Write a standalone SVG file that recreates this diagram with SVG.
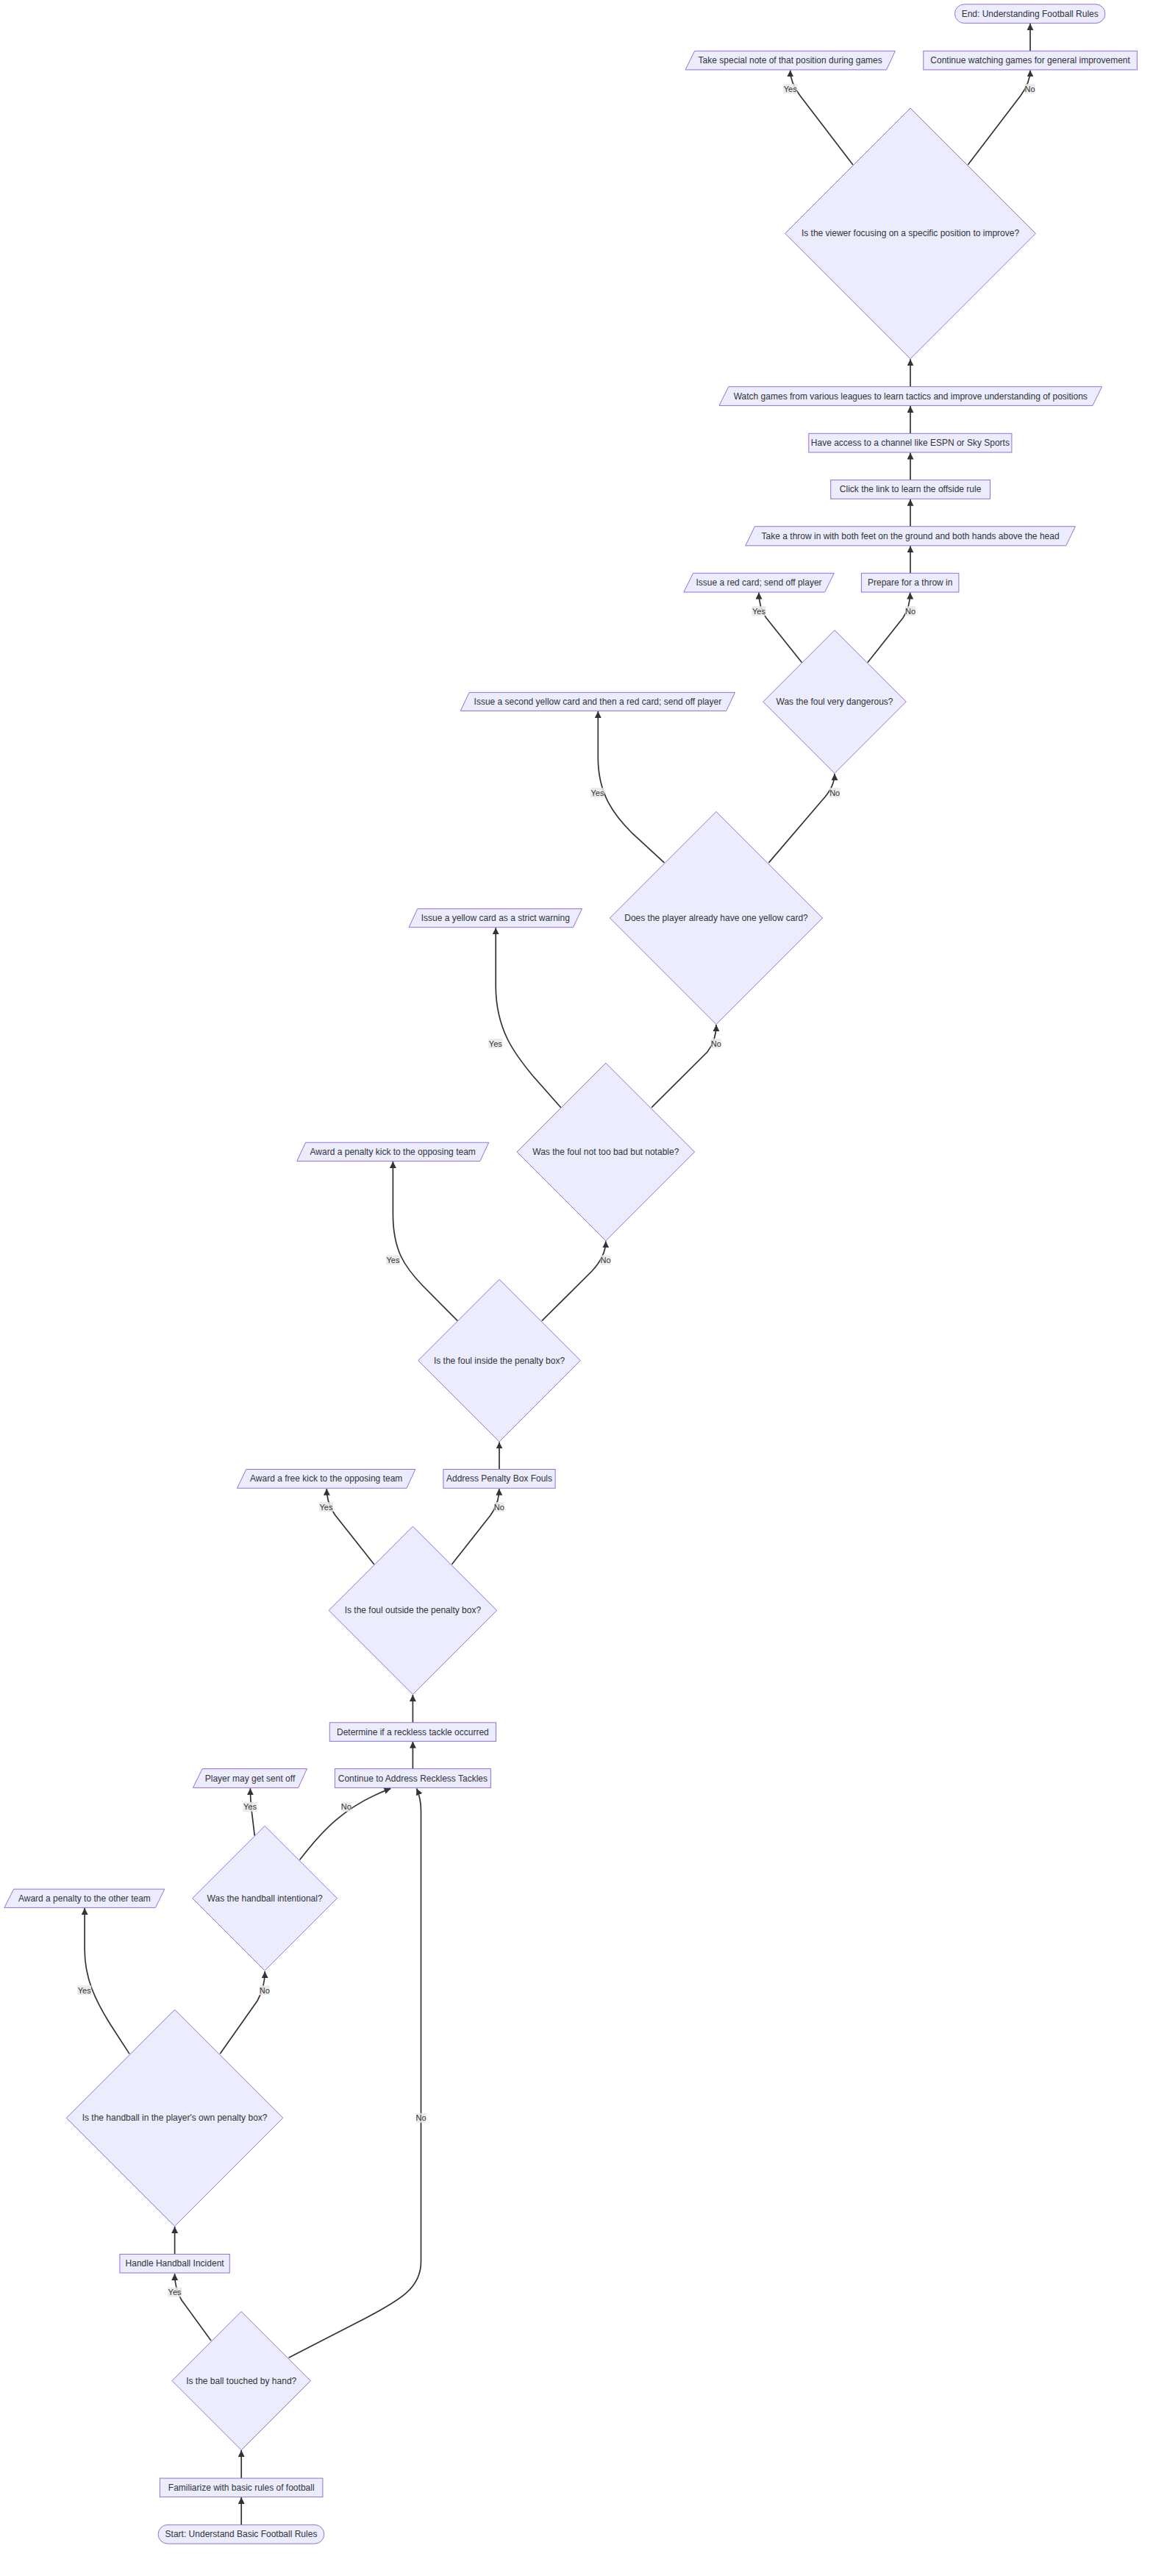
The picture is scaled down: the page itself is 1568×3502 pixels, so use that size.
<svg xmlns="http://www.w3.org/2000/svg" width="1568" height="3502" viewBox="0 0 1568 3502">
<style>
.nd rect,.nd polygon{fill:#ECECFF;stroke:#9370DB;stroke-width:1}
.nd text{font-family:"Liberation Sans",Arial,sans-serif;font-size:12px;fill:#333;text-anchor:middle;dominant-baseline:central}
.ed{fill:none;stroke:#333;stroke-width:1.7;marker-end:url(#arr)}
.el rect{fill:#e8e8e8;opacity:0.85}
.el text{font-family:"Liberation Sans",Arial,sans-serif;font-size:11px;fill:#333;text-anchor:middle;dominant-baseline:central}
</style>
<defs>
<marker id="arr" viewBox="0 0 10 10" refX="10" refY="5" markerUnits="userSpaceOnUse" markerWidth="9" markerHeight="9" orient="auto">
<path d="M0,0 L10,5 L0,10 z" fill="#333"/>
</marker>
</defs>
<rect width="1568" height="3502" fill="#ffffff"/>
<g id="connectors">
<path class="ed" d="M328.2,3432.4 L328.2,3395"/>
<path class="ed" d="M328.2,3369.1 L328.2,3331"/>
<path class="ed" d="M287,3182 L247,3127 Q237.6,3112 237.6,3091"/>
<path class="ed" d="M392.6,3205.2 L500,3150 C545,3126 572.5,3110 572.5,3075 L572.5,2462 Q572.5,2445 566.5,2431.4"/>
<path class="ed" d="M237.6,3064.5 L237.6,3027"/>
<path class="ed" d="M176,2792.1 L150,2752 C130,2720 115.1,2690 115.1,2650 L115.1,2594"/>
<path class="ed" d="M299.3,2792.1 L350,2720 Q360.2,2702 360.2,2680"/>
<path class="ed" d="M346.3,2495.7 L342,2460 Q340.4,2445 340.4,2431.2"/>
<path class="ed" d="M407.6,2528.6 C437,2490 468,2455 531.4,2431.4"/>
<path class="ed" d="M561.4,2404.6 L561.4,2367.6"/>
<path class="ed" d="M561.4,2341.8 L561.4,2304"/>
<path class="ed" d="M508.8,2126.8 L456,2060 Q444.3,2044 444.3,2023.8"/>
<path class="ed" d="M614.4,2126.8 L667,2060 Q678.8,2044 678.8,2023.8"/>
<path class="ed" d="M679,1997.5 L679,1960.4"/>
<path class="ed" d="M622.3,1795.7 L575,1748 C550,1722 534.4,1700 534.4,1650 L534.4,1579"/>
<path class="ed" d="M736.9,1795.7 L805,1728 Q823.8,1708 823.8,1687.3"/>
<path class="ed" d="M762.8,1505.7 L725,1463 C700,1433 674.2,1400 674.2,1340 L674.2,1261.2"/>
<path class="ed" d="M886.1,1505.7 L962,1430 Q974,1415 974,1393.1"/>
<path class="ed" d="M903.4,1172.9 L860,1133 C835,1108 813.3,1080 813.3,1030 L813.3,966.9"/>
<path class="ed" d="M1045.4,1172.9 L1118,1088 Q1135,1070 1135,1051.8"/>
<path class="ed" d="M1090.5,900.7 L1042,840 Q1032,826 1032,805.5"/>
<path class="ed" d="M1179.9,900.7 L1228,840 Q1237.7,826 1237.7,805.5"/>
<path class="ed" d="M1238,779.3 L1238,742.3"/>
<path class="ed" d="M1238,715.7 L1238,678.7"/>
<path class="ed" d="M1238,652.5 L1238,615.5"/>
<path class="ed" d="M1238,589.3 L1238,551.9"/>
<path class="ed" d="M1238,525.7 L1238,488.3"/>
<path class="ed" d="M1159.9,224 L1088,130 Q1074.7,112 1074.7,95.4"/>
<path class="ed" d="M1316.3,224 L1388,130 Q1401,112 1401,95.4"/>
<path class="ed" d="M1401,69.3 L1401,32.1"/>
</g>
<g id="edge-labels" class="el">
<rect x="1065.2" y="114.2" width="19" height="13"/><text x="1074.7" y="120.7">Yes</text>
<rect x="1393.6" y="114.2" width="14" height="13"/><text x="1400.6" y="120.7">No</text>
<rect x="1022.5" y="824.2" width="19" height="13"/><text x="1032" y="830.7">Yes</text>
<rect x="1231" y="824.2" width="14" height="13"/><text x="1238" y="830.7">No</text>
<rect x="803" y="1071" width="19" height="13"/><text x="812.5" y="1077.5">Yes</text>
<rect x="1128.2" y="1071" width="14" height="13"/><text x="1135.2" y="1077.5">No</text>
<rect x="664.3" y="1412.1" width="19" height="13"/><text x="673.8" y="1418.6">Yes</text>
<rect x="966.8" y="1412.1" width="14" height="13"/><text x="973.8" y="1418.6">No</text>
<rect x="525" y="1706.4" width="19" height="13"/><text x="534.5" y="1712.9">Yes</text>
<rect x="816.5" y="1706.4" width="14" height="13"/><text x="823.5" y="1712.9">No</text>
<rect x="434" y="2042.1" width="19" height="13"/><text x="443.5" y="2048.6">Yes</text>
<rect x="671.8" y="2042.1" width="14" height="13"/><text x="678.8" y="2048.6">No</text>
<rect x="330.5" y="2449.9" width="19" height="13"/><text x="340" y="2456.4">Yes</text>
<rect x="463.9" y="2449.9" width="14" height="13"/><text x="470.9" y="2456.4">No</text>
<rect x="105.2" y="2699.2" width="19" height="13"/><text x="114.7" y="2705.7">Yes</text>
<rect x="352.8" y="2699.2" width="14" height="13"/><text x="359.8" y="2705.7">No</text>
<rect x="565.6" y="2872.8" width="14" height="13"/><text x="572.6" y="2879.3">No</text>
<rect x="228.1" y="3109.5" width="19" height="13"/><text x="237.6" y="3116">Yes</text>
</g>
<g id="n_end" class="nd"><rect x="1298.5" y="5.8" width="204.4" height="25.8" rx="12.9"/><text x="1400.7" y="18.7">End: Understanding Football Rules</text></g>
<g id="n_note" class="nd"><polygon points="944.7,69.3 1217.4,69.3 1205.5,94.9 932,94.9"/><text x="1074.7" y="82.1">Take special note of that position during games</text></g>
<g id="n_contwatch" class="nd"><rect x="1255.8" y="69.3" width="290.6" height="25.6"/><text x="1401.1" y="82.1">Continue watching games for general improvement</text></g>
<g id="n_focus" class="nd"><polygon points="1238,147 1408.4,317.4 1238,487.8 1067.6,317.4"/><text x="1238" y="317.4">Is the viewer focusing on a specific position to improve?</text></g>
<g id="n_watch" class="nd"><polygon points="990.8,525.7 1498.6,525.7 1485.9,551.4 978,551.4"/><text x="1238.3" y="538.6">Watch games from various leagues to learn tactics and improve understanding of positions</text></g>
<g id="n_access" class="nd"><rect x="1099.8" y="589.3" width="276.1" height="25.7"/><text x="1237.9" y="602.1">Have access to a channel like ESPN or Sky Sports</text></g>
<g id="n_click" class="nd"><rect x="1129.7" y="652.5" width="216.8" height="25.7"/><text x="1238.1" y="665.3">Click the link to learn the offside rule</text></g>
<g id="n_throw" class="nd"><polygon points="1026.5,715.7 1462.4,715.7 1449.7,741.8 1013.8,741.8"/><text x="1238.1" y="728.8">Take a throw in with both feet on the ground and both hands above the head</text></g>
<g id="n_prepare" class="nd"><rect x="1171.4" y="779.3" width="132.5" height="25.7"/><text x="1237.7" y="792.1">Prepare for a throw in</text></g>
<g id="n_red" class="nd"><polygon points="942.6,779.3 1134.3,779.3 1121.6,805 929.8,805"/><text x="1032" y="792.1">Issue a red card; send off player</text></g>
<g id="n_danger" class="nd"><polygon points="1135,856.7 1232.3,954 1135,1051.3 1037.7,954"/><text x="1135" y="954">Was the foul very dangerous?</text></g>
<g id="n_second" class="nd"><polygon points="638.1,941.4 999.5,941.4 987.7,966.4 626.3,966.4"/><text x="812.9" y="953.9">Issue a second yellow card and then a red card; send off player</text></g>
<g id="n_oneyellow" class="nd"><polygon points="974,1103.4 1118.6,1248 974,1392.6 829.4,1248"/><text x="974" y="1248">Does the player already have one yellow card?</text></g>
<g id="n_yellow" class="nd"><polygon points="567.8,1235.4 791.6,1235.4 779.4,1260.7 556,1260.7"/><text x="673.8" y="1248">Issue a yellow card as a strict warning</text></g>
<g id="n_notable" class="nd"><polygon points="823.8,1445.2 944.6,1566 823.8,1686.8 703,1566"/><text x="823.8" y="1566">Was the foul not too bad but notable?</text></g>
<g id="n_pkick" class="nd"><polygon points="415.6,1553.2 664.7,1553.2 652.8,1578.6 403.7,1578.6"/><text x="534.2" y="1565.9">Award a penalty kick to the opposing team</text></g>
<g id="n_inside" class="nd"><polygon points="679,1739.3 789.3,1849.6 679,1959.9 568.7,1849.6"/><text x="679" y="1849.6">Is the foul inside the penalty box?</text></g>
<g id="n_address" class="nd"><rect x="602.9" y="1997.5" width="152.2" height="25.7"/><text x="679" y="2010.3">Address Penalty Box Fouls</text></g>
<g id="n_freekick" class="nd"><polygon points="334.8,1997.5 564.9,1997.5 553,2023.2 322.5,2023.2"/><text x="443.7" y="2010.3">Award a free kick to the opposing team</text></g>
<g id="n_outside" class="nd"><polygon points="561.4,2075.1 675.6,2189.3 561.4,2303.5 447.2,2189.3"/><text x="561.4" y="2189.3">Is the foul outside the penalty box?</text></g>
<g id="n_determine" class="nd"><rect x="448.3" y="2341.8" width="226.2" height="25.5"/><text x="561.4" y="2354.5">Determine if a reckless tackle occurred</text></g>
<g id="n_reckless" class="nd"><rect x="455.4" y="2404.6" width="212" height="25.8"/><text x="561.4" y="2417.5">Continue to Address Reckless Tackles</text></g>
<g id="n_sentoff" class="nd"><polygon points="275.1,2404.6 417.5,2404.6 405.6,2430.4 262.5,2430.4"/><text x="340" y="2417.5">Player may get sent off</text></g>
<g id="n_intent" class="nd"><polygon points="360.1,2482.3 458.5,2580.7 360.1,2679.1 261.7,2580.7"/><text x="360.1" y="2580.7">Was the handball intentional?</text></g>
<g id="n_penother" class="nd"><polygon points="18.6,2568.2 223.8,2568.2 211.5,2593.4 5.9,2593.4"/><text x="114.9" y="2580.8">Award a penalty to the other team</text></g>
<g id="n_ownbox" class="nd"><polygon points="237.6,2732.1 384.8,2879.3 237.6,3026.5 90.4,2879.3"/><text x="237.6" y="2879.3">Is the handball in the player's own penalty box?</text></g>
<g id="n_handle" class="nd"><rect x="162.9" y="3064.5" width="149.4" height="25.5"/><text x="237.6" y="3077.2">Handle Handball Incident</text></g>
<g id="n_touched" class="nd"><polygon points="328.2,3142.4 422.4,3236.6 328.2,3330.8 234,3236.6"/><text x="328.2" y="3236.6">Is the ball touched by hand?</text></g>
<g id="n_familiar" class="nd"><rect x="217.4" y="3369.1" width="221.5" height="25.5"/><text x="328.2" y="3381.8">Familiarize with basic rules of football</text></g>
<g id="n_start" class="nd"><rect x="215.1" y="3432.4" width="225.7" height="25.7" rx="12.85"/><text x="328" y="3445.2">Start: Understand Basic Football Rules</text></g>
</svg>
